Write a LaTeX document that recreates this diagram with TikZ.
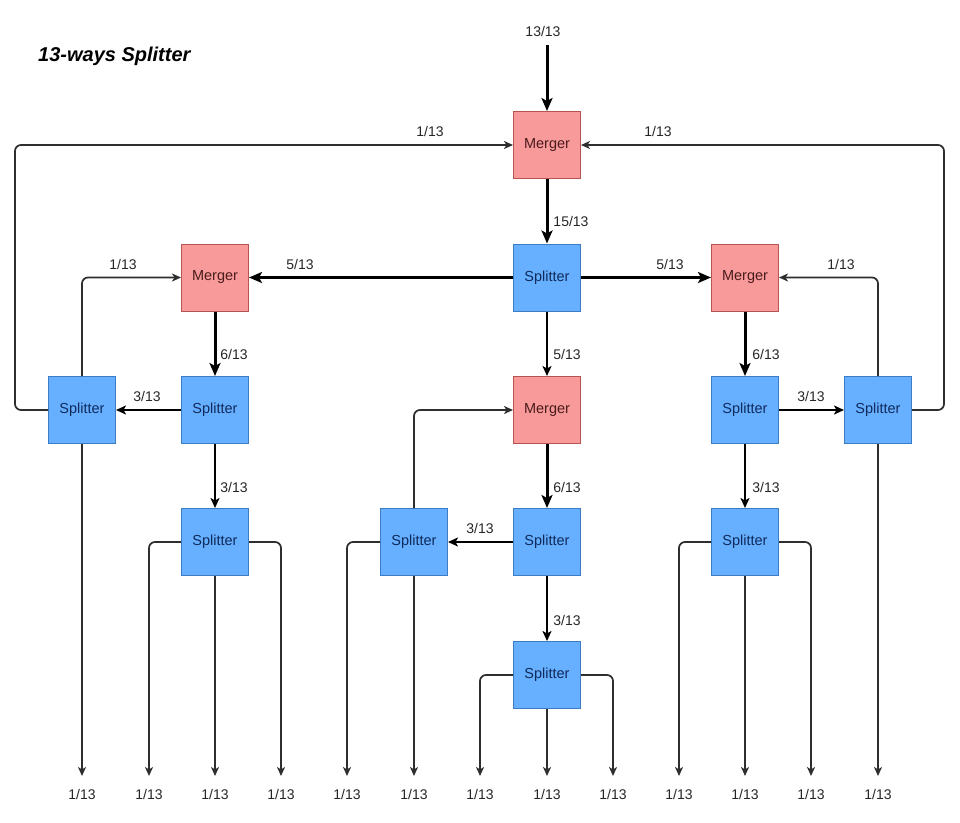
\documentclass[tikz,border=0pt]{standalone}
\usepackage{fontspec}
\setmainfont{Liberation Sans}
\usetikzlibrary{arrows.meta}
\definecolor{mfill}{HTML}{F8999A}
\definecolor{mstroke}{HTML}{B85450}
\definecolor{sfill}{HTML}{66B0FF}
\definecolor{sstroke}{HTML}{3B7CC4}
\definecolor{lgray}{HTML}{2E2E2E}
\definecolor{mtext}{HTML}{4A1C1C}
\definecolor{stext}{HTML}{102A5C}
\tikzset{
  box/.style={draw, line width=1pt, minimum width=67pt, minimum height=67pt, inner sep=0pt, font=\fontsize{14.5}{16}\selectfont},
  merger/.style={box, fill=mfill, draw=mstroke, text=mtext},
  splitter/.style={box, fill=sfill, draw=sstroke, text=stext},
  bigarr/.style={line width=3pt, -{Stealth[length=13pt,width=11pt,inset=3pt]}},
  midarr/.style={line width=2.2pt, -{Stealth[length=10pt,width=9pt,inset=2.5pt]}},
  thinarr/.style={draw=lgray, line width=1.7pt, rounded corners=6pt, -{Stealth[length=9pt,width=8pt,inset=2.5pt]}},
  lbl/.style={font=\fontsize{14}{16}\selectfont, inner sep=0pt, text=black!85},
}
\begin{document}
\begin{tikzpicture}[x=1pt,y=-1pt]
\useasboundingbox (0,0) rectangle (960,822);
\node[anchor=west, font=\fontsize{20}{24}\selectfont\bfseries\itshape, inner sep=0pt] (title) at (38,56) {13-ways Splitter};

\node[merger] (M0) at (547,145) {Merger};
\node[splitter] (S0) at (547,277.5) {Splitter};
\node[merger] (ML) at (215,277.5) {Merger};
\node[merger] (MR) at (745,277.5) {Merger};
\node[merger] (MC) at (547,410) {Merger};
\node[splitter] (SL2) at (215,410) {Splitter};
\node[splitter] (SLL) at (82,410) {Splitter};
\node[splitter] (SR2) at (745,410) {Splitter};
\node[splitter] (SRR) at (878,410) {Splitter};
\node[splitter] (SL3) at (215,542) {Splitter};
\node[splitter] (SC2) at (547,542) {Splitter};
\node[splitter] (SCL) at (414,542) {Splitter};
\node[splitter] (SR3) at (745,542) {Splitter};
\node[splitter] (SC3) at (547,675) {Splitter};

% outputs
\foreach \i/\x in {1/82,2/149,3/215,4/281,5/347,6/414,7/480,8/547,9/613,10/679,11/745,12/811,13/878}{
  \coordinate (o\i) at (\x,776);
  \node[lbl] (ol\i) at (\x,794) {1/13};
}
\coordinate (in) at (547,45);
\coordinate (cl) at (15,145);
\coordinate (cr) at (944,145);

% thick flows
\draw[bigarr] (in) -- (M0.north);
\draw[bigarr] (M0.south) -- (S0.north);
\draw[bigarr] (S0.west) -- (ML.east);
\draw[bigarr] (S0.east) -- (MR.west);
\draw[midarr] (S0.south) -- (MC.north);
\draw[bigarr] (ML.south) -- (SL2.north);
\draw[bigarr] (MR.south) -- (SR2.north);
\draw[bigarr] (MC.south) -- (SC2.north);
\draw[midarr] (SL2.west) -- (SLL.east);
\draw[midarr] (SL2.south) -- (SL3.north);
\draw[midarr] (SR2.east) -- (SRR.west);
\draw[midarr] (SR2.south) -- (SR3.north);
\draw[midarr] (SC2.west) -- (SCL.east);
\draw[midarr] (SC2.south) -- (SC3.north);

% thin flows
\draw[thinarr] (SLL.west) -| (cl) -- (M0.west);
\draw[thinarr] (SRR.east) -| (cr) -- (M0.east);
\draw[thinarr] (SLL.north) |- (ML.west);
\draw[thinarr] (SRR.north) |- (MR.east);
\draw[thinarr] (SCL.north) |- (MC.west);
\draw[thinarr] (SLL.south) -- (o1);
\draw[thinarr] (SL3.west) -| (o2);
\draw[thinarr] (SL3.south) -- (o3);
\draw[thinarr] (SL3.east) -| (o4);
\draw[thinarr] (SCL.west) -| (o5);
\draw[thinarr] (SCL.south) -- (o6);
\draw[thinarr] (SC3.west) -| (o7);
\draw[thinarr] (SC3.south) -- (o8);
\draw[thinarr] (SC3.east) -| (o9);
\draw[thinarr] (SR3.west) -| (o10);
\draw[thinarr] (SR3.south) -- (o11);
\draw[thinarr] (SR3.east) -| (o12);
\draw[thinarr] (SRR.south) -- (o13);

% labels
\node[lbl] (l1) at (543,31) {13/13};
\node[lbl] (l2) at (430,131) {1/13};
\node[lbl] (l3) at (658,131) {1/13};
\node[lbl] (l4) at (571,221) {15/13};
\node[lbl] (l5) at (300,264) {5/13};
\node[lbl] (l6) at (670,264) {5/13};
\node[lbl] (l7) at (123,264) {1/13};
\node[lbl] (l8) at (841,264) {1/13};
\node[lbl] (l9) at (234,354) {6/13};
\node[lbl] (l10) at (766,354) {6/13};
\node[lbl] (l11) at (567,354) {5/13};
\node[lbl] (l12) at (147,396) {3/13};
\node[lbl] (l13) at (811,396) {3/13};
\node[lbl] (l14) at (567,487) {6/13};
\node[lbl] (l15) at (234,487) {3/13};
\node[lbl] (l16) at (766,487) {3/13};
\node[lbl] (l17) at (480,528) {3/13};
\node[lbl] (l18) at (567,620) {3/13};
\end{tikzpicture}
\end{document}
